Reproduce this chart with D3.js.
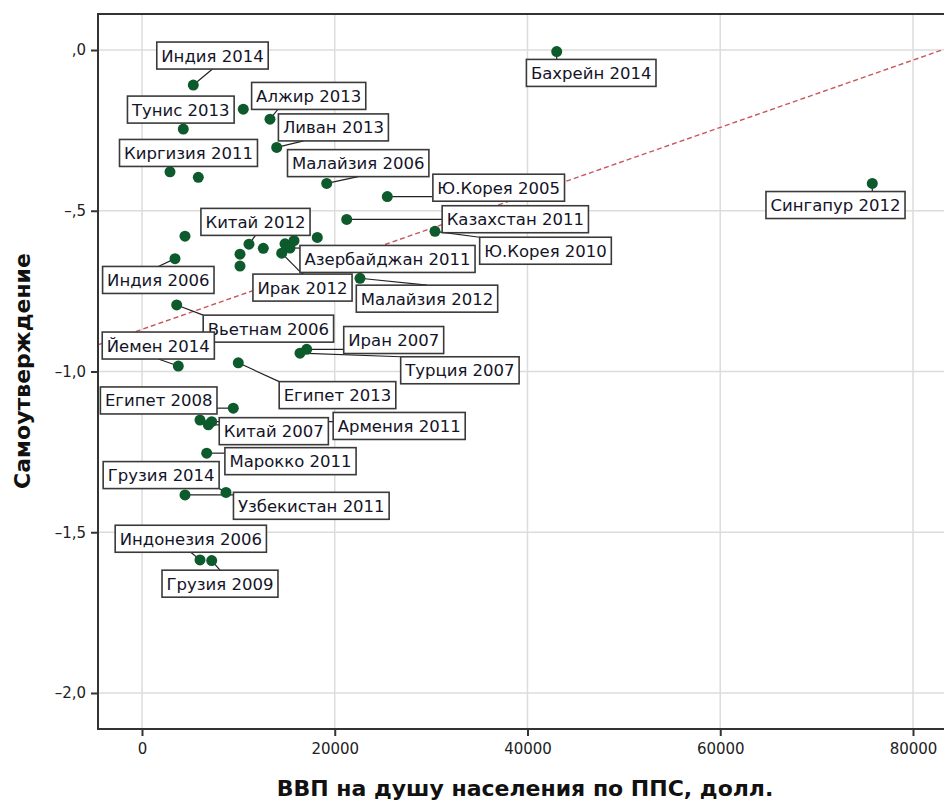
<!DOCTYPE html>
<html>
<head>
<meta charset="utf-8">
<script src="https://cdn.jsdelivr.net/npm/d3@7/dist/d3.min.js"></script>
<style>
  html, body { margin: 0; padding: 0; background: #fff; }
  svg { display: block; font-family: "DejaVu Sans", Verdana, sans-serif; }
</style>
</head>
<body>
<svg id="chart" width="944" height="801"></svg>
<script>
// ---------------- DATA ----------------
const pointLabels = [
  "Индия 2014", "", "Алжир 2013", "Тунис 2013", "Ливан 2013", "Киргизия 2011", "",
  "Малайзия 2006", "Ю.Корея 2005", "Казахстан 2011", "Ю.Корея 2010", "", "",
  "Индия 2006", "Китай 2012", "", "", "", "", "", "Ирак 2012", "Азербайджан 2011",
  "Малайзия 2012", "Вьетнам 2006", "Иран 2007", "Турция 2007", "Йемен 2014",
  "Египет 2013", "Египет 2008", "", "Китай 2007", "Армения 2011", "Марокко 2011",
  "Узбекистан 2011", "Грузия 2014", "Индонезия 2006", "Грузия 2009",
  "Бахрейн 2014", "Сингапур 2012"
];
const gdpPPP = [
  5323, 10511, 13281, 4285, 13977, 2905, 5842,
  19165, 25453, 21240, 30402, 18190, 4462,
  3424, 11102, 12586, 10169, 10169, 14838, 15772, 14496, 15357,
  22620, 3600, 17090, 16394, 3766,
  9992, 9473, 6018, 6880, 7232, 6713,
  4462, 8716, 6018, 7232,
  43030, 75777
];
const selfAssertion = [
  -0.109, -0.184, -0.215, -0.246, -0.303, -0.379, -0.396,
  -0.415, -0.456, -0.527, -0.564, -0.583, -0.579,
  -0.649, -0.604, -0.617, -0.635, -0.672, -0.603, -0.593, -0.632, -0.616,
  -0.710, -0.793, -0.931, -0.943, -0.983,
  -0.973, -1.114, -1.151, -1.166, -1.156, -1.254,
  -1.384, -1.376, -1.586, -1.588,
  -0.005, -0.415
];
const xTicks = [0, 20000, 40000, 60000, 80000];
const xTickLabels = ["0", "20000", "40000", "60000", "80000"];
const yTicks = [0, -0.5, -1.0, -1.5, -2.0];
const yTickLabels = [",0", "–,5", "–1,0", "–1,5", "–2,0"];
const fitIntercept = -0.869;
const fitSlope = 1.047e-5;
const xTitle = "ВВП на душу населения по ППС, долл.";
const yTitle = "Самоутверждение";

// ---------------- LAYOUT (label box centre offsets from point, px; leader anchor) ----------------
const labelLayout = {
  "Индия 2014": [19.2, -29.5, 0.5],
  "Алжир 2013": [38.7, -23.2, 0.23],
  "Тунис 2013": [-2.5, -19.5, "n"],
  "Ливан 2013": [56.7, -20, 0.23],
  "Киргизия 2011": [18.5, -18.9, 0.5],
  "Малайзия 2006": [31.5, -20.3, 0.5],
  "Ю.Корея 2005": [111.4, -8.9, "n"],
  "Казахстан 2011": [168.6, -0.2, "n"],
  "Ю.Корея 2010": [110.5, 19.4, "n"],
  "Бахрейн 2014": [34.5, 21.3, "n"],
  "Сингапур 2012": [-36.8, 21.6, "n"],
  "Китай 2012": [6.5, -22.3, 0.5],
  "Индия 2006": [-16.7, 21.3, 0.5],
  "Азербайджан 2011": [97.5, 10.9, "n"],
  "Ирак 2012": [20.8, 34.4, 0.5],
  "Малайзия 2012": [67, 20.4, 0.5],
  "Вьетнам 2006": [91.7, 23.7, "n"],
  "Йемен 2014": [-20, -20.5, 0.5],
  "Египет 2013": [99.2, 32.3, "n"],
  "Иран 2007": [87, -9.3, "n"],
  "Турция 2007": [159.9, 17.1, "n"],
  "Египет 2008": [-74.6, -7.7, "n"],
  "Китай 2007": [65.5, 6.3, "n"],
  "Армения 2011": [187.5, 4.3, "n"],
  "Марокко 2011": [83.8, 8, "n"],
  "Узбекистан 2011": [126.3, 10.85, "n"],
  "Грузия 2014": [-64.85, -17.3, "n"],
  "Индонезия 2006": [-9.2, -21.15, 0.5],
  "Грузия 2009": [8.3, 23.15, 0.5]
};

// ---------------- CHART ----------------
const svg = d3.select("#chart");
const plot = { left: 98, top: 14, right: 944, bottom: 729 };

const x = d3.scaleLinear().domain([-4565, 83217]).range([plot.left, plot.right]);
const y = d3.scaleLinear().domain([-2.112, 0.112]).range([plot.bottom, plot.top]);

const data = gdpPPP.map((g, i) => ({ gdp: g, val: selfAssertion[i], label: pointLabels[i] }));

svg.append("defs").append("clipPath").attr("id", "plotclip")
  .append("rect").attr("x", plot.left).attr("y", plot.top)
  .attr("width", plot.right - plot.left).attr("height", plot.bottom - plot.top);

// gridlines
const grid = svg.append("g").attr("clip-path", "url(#plotclip)");
grid.selectAll("line.gx").data(xTicks).join("line")
  .attr("x1", d => x(d)).attr("x2", d => x(d))
  .attr("y1", plot.top).attr("y2", plot.bottom)
  .attr("stroke", "#dcdcdc").attr("stroke-width", 1.5);
grid.selectAll("line.gy").data(yTicks).join("line")
  .attr("y1", d => y(d)).attr("y2", d => y(d))
  .attr("x1", plot.left).attr("x2", plot.right)
  .attr("stroke", "#dcdcdc").attr("stroke-width", 1.5);

// fit line
const fitG = svg.append("g").attr("clip-path", "url(#plotclip)");
const xd = x.domain();
fitG.append("line")
  .attr("x1", x(xd[0])).attr("y1", y(fitIntercept + fitSlope * xd[0]))
  .attr("x2", x(xd[1])).attr("y2", y(fitIntercept + fitSlope * xd[1]))
  .attr("stroke", "#c9575a").attr("stroke-width", 1.4)
  .attr("stroke-dasharray", "5,3");

// axes
const xAxis = d3.axisBottom(x).tickValues(xTicks)
  .tickFormat((d, i) => xTickLabels[i]).tickSize(7).tickSizeOuter(0);
const yAxis = d3.axisLeft(y).tickValues(yTicks)
  .tickFormat((d, i) => yTickLabels[i]).tickSize(7).tickSizeOuter(0);

const gx = svg.append("g").attr("transform", `translate(0,${plot.bottom})`).call(xAxis);
gx.attr("font-size", 15).attr("font-family", "DejaVu Sans, sans-serif");
gx.select(".domain").remove();
gx.selectAll(".tick line").attr("stroke", "#333").attr("stroke-width", 2);
gx.selectAll(".tick text").attr("fill", "#222").attr("dy", "1.0em");

const gy = svg.append("g").attr("transform", `translate(${plot.left},0)`).call(yAxis);
gy.attr("font-size", 15).attr("font-family", "DejaVu Sans, sans-serif");
gy.select(".domain").remove();
gy.selectAll(".tick line").attr("stroke", "#333").attr("stroke-width", 2);
gy.selectAll(".tick text").attr("fill", "#222").attr("x", -12);

// frame
svg.append("path")
  .attr("d", `M${plot.right},${plot.top}H${plot.left}V${plot.bottom}H${plot.right}`)
  .attr("fill", "none").attr("stroke", "#333").attr("stroke-width", 2);

// titles
svg.append("text").attr("x", 525).attr("y", 796).attr("text-anchor", "middle")
  .attr("font-size", 22).attr("font-weight", "bold").attr("fill", "#111").text(xTitle);
svg.append("text").attr("transform", "translate(30,371) rotate(-90)")
  .attr("text-anchor", "middle")
  .attr("font-size", 22).attr("font-weight", "bold").attr("fill", "#111").text(yTitle);

// labels prep
const labeled = data.filter(d => d.label && labelLayout[d.label]);
const leaderG = svg.append("g");
const pointG = svg.append("g");
const boxG = svg.append("g");

const boxH = 27, padX = 4.5;
labeled.forEach(d => {
  const [dx, dy, anchor] = labelLayout[d.label];
  const px = x(d.gdp), py = y(d.val);
  const g = boxG.append("g");
  const rect = g.append("rect");
  const t = g.append("text").attr("font-size", 16.5).attr("fill", "#141428")
    .attr("text-anchor", "middle").attr("x", px + dx).attr("y", py + dy + 6).text(d.label);
  const w = t.node().getComputedTextLength() + 2 * padX;
  const bx = px + dx - w / 2, by = py + dy - boxH / 2;
  rect.attr("x", bx).attr("y", by).attr("width", w).attr("height", boxH)
    .attr("fill", "#fff").attr("stroke", "#3a3a3a").attr("stroke-width", 1.6);
  // leader
  let tx, ty;
  const nx = Math.max(bx, Math.min(px, bx + w));
  const ny = Math.max(by, Math.min(py, by + boxH));
  if (anchor === "n") { tx = nx; ty = ny; }
  else {
    const f = anchor;
    if (py > by + boxH) { tx = bx + f * w; ty = by + boxH; }
    else if (py < by) { tx = bx + f * w; ty = by; }
    else if (px < bx) { tx = bx; ty = by + f * boxH; }
    else { tx = bx + w; ty = by + f * boxH; }
  }
  const dist = Math.hypot(nx - px, ny - py);
  if (dist > 6.5) {
    leaderG.append("line").attr("x1", px).attr("y1", py).attr("x2", tx).attr("y2", ty)
      .attr("stroke", "#222").attr("stroke-width", 1.2);
  }
});

// points
pointG.selectAll("circle").data(data).join("circle")
  .attr("cx", d => x(d.gdp)).attr("cy", d => y(d.val)).attr("r", 5.5)
  .attr("fill", "#0d5a2c");
</script>
</body>
</html>
